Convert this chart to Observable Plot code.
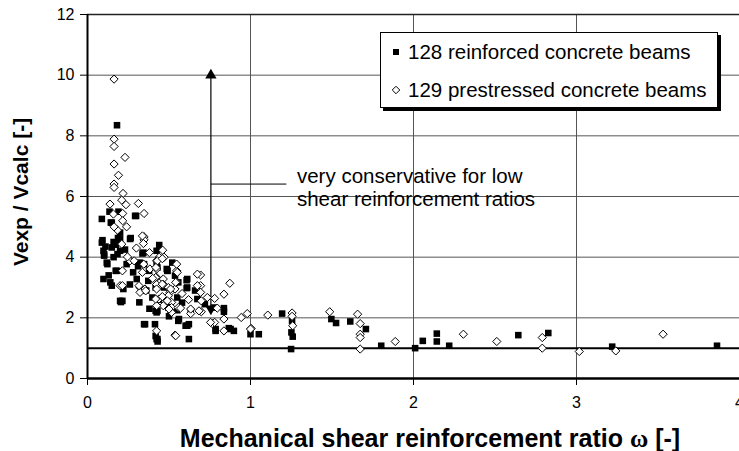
<!DOCTYPE html>
<html><head><meta charset="utf-8">
<script src="https://cdn.jsdelivr.net/npm/d3@7"></script>
<script src="https://cdn.jsdelivr.net/npm/@observablehq/plot@0.6"></script>
<style>body{margin:0;background:#fff;}svg{display:block;}</style>
</head><body><div id="chart"></div>
<script>
// Series: [omega, Vexp/Vcalc]
const reinforced = [
[0.181,8.35],[0.19,5.5],[0.298,5.36],[0.088,5.26],[0.149,5.14],[0.2,4.81],[0.261,4.6],[0.088,4.48],[0.2,4.6],
[0.149,4.32],[0.098,4.21],[0.343,4.15],[0.424,4.21],[0.16,4.0],[0.2,4.21],[0.118,3.82],[0.179,3.55],[0.24,3.77],
[0.322,3.82],[0.098,3.28],[0.149,3.06],[0.22,2.95],[0.2,2.56],[0.205,2.52],[0.318,2.51],[0.302,3.28],[0.373,3.22],
[0.353,1.79],[0.414,1.79],[0.424,1.3],[0.43,1.22],[0.418,1.4],[0.537,3.39],[0.557,3.17],[0.486,3.61],[0.424,2.18],
[0.496,2.34],[0.557,1.9],[0.424,3.82],[0.418,3.0],[0.608,3.24],[0.608,2.98],[0.674,2.62],[0.633,2.23],[0.602,1.74],
[0.622,1.79],[0.622,1.3],[0.837,2.32],[0.837,2.2],[0.786,1.57],[0.867,1.66],[0.898,1.57],[1.0,1.46],[1.051,1.46],
[1.194,2.14],[1.255,1.9],[1.251,1.52],[1.259,1.38],[1.249,0.97],[1.496,1.96],[1.525,1.83],[1.612,1.88],[1.708,1.63],
[1.802,1.08],[2.01,1.0],[2.057,1.24],[2.143,1.48],[2.143,1.22],[2.219,1.08],[2.643,1.43],[2.827,1.5],[3.219,1.05],
[3.862,1.08],[0.102,4.05],[0.418,2.23],[0.776,2.34],[0.786,1.63],[0.878,1.63],[0.52,3.82],[0.49,3.55],[0.551,2.67],
[0.135,5.5],[0.173,4.41],[0.265,4.63],[0.102,4.1],[0.184,4.1],[0.122,3.77],[0.173,3.55],[0.337,4.12],[0.347,3.77],
[0.378,3.55],[0.429,3.66],[0.49,3.55],[0.398,2.67],[0.429,2.23],[0.214,2.56],[0.14,3.17],[0.612,3.28],[0.612,3.0],
[0.469,3.0],[0.49,2.4],[0.561,1.96],[0.347,1.79],[0.429,1.3],[0.612,1.74],[0.092,4.56],[0.187,4.63],[0.292,5.36],
[0.143,5.14],[0.11,4.35],[0.16,4.5],[0.13,3.4],[0.23,4.25],[0.28,3.5],[0.36,2.9],[0.45,2.6],[0.5,2.05],[0.55,2.25],
[0.38,2.3],[0.31,3.7],[0.26,3.1],[0.44,4.4],[0.58,2.5],[0.66,2.9],[0.72,2.45]
];
const prestressed = [
[0.163,9.87],[0.163,7.89],[0.163,7.65],[0.23,7.29],[0.163,7.07],[0.163,6.41],[0.163,6.3],[0.218,6.1],[0.312,5.77],
[0.21,5.88],[0.236,5.73],[0.138,5.75],[0.347,5.44],[0.159,5.42],[0.216,5.44],[0.216,5.2],[0.184,4.89],[0.347,4.67],
[0.347,4.57],[0.343,4.45],[0.21,4.43],[0.38,4.15],[0.461,4.23],[0.44,4.0],[0.2,3.06],[0.261,3.88],[0.345,3.77],
[0.383,3.61],[0.424,3.88],[0.47,4.0],[0.424,3.61],[0.424,3.33],[0.424,3.1],[0.424,2.95],[0.465,3.28],[0.465,3.1],
[0.322,3.0],[0.322,2.84],[0.353,2.95],[0.496,3.0],[0.506,2.84],[0.547,3.17],[0.537,2.95],[0.547,3.55],[0.547,3.77],
[0.496,2.73],[0.475,2.56],[0.465,2.4],[0.516,2.51],[0.438,2.62],[0.424,2.4],[0.516,2.34],[0.557,2.34],[0.516,2.18],
[0.424,1.57],[0.537,1.43],[0.694,3.41],[0.694,3.06],[0.694,2.84],[0.873,3.14],[0.837,2.78],[0.698,2.56],[0.735,2.67],
[0.78,2.64],[0.698,2.2],[0.633,2.14],[0.796,2.32],[0.837,1.96],[0.765,1.81],[0.78,1.85],[0.837,1.57],[0.943,2.01],
[0.98,2.14],[1.004,1.65],[1.106,2.09],[0.571,2.32],[1.255,2.16],[1.255,2.05],[1.259,1.74],[1.486,2.2],[1.657,2.12],
[1.673,1.81],[1.673,1.46],[1.673,1.35],[1.673,0.97],[1.888,1.22],[2.306,1.46],[2.511,1.22],[1.0,1.63],[2.79,1.35],
[2.79,1.0],[3.017,0.89],[3.241,0.91],[3.531,1.46],[0.357,2.89],[0.541,3.17],[0.755,1.85],[0.163,5.0],[0.337,4.7],
[0.286,3.88],[0.245,4.01],[0.429,3.88],[0.459,3.95],[0.551,3.5],[0.42,3.66],[0.337,3.5],[0.214,3.55],[0.316,3.06],
[0.418,3.33],[0.459,3.11],[0.51,2.95],[0.418,2.62],[0.459,2.7],[0.49,2.56],[0.214,3.06],[0.541,1.41],[0.633,2.29],
[0.674,3.44],[0.674,3.06],[0.684,2.23],[0.5,2.29],[0.24,5.0],[0.19,6.7],[0.3,4.3],[0.4,3.3],[0.58,2.8],[0.62,2.6]
];
const legendLabels = ["128 reinforced concrete beams", "129 prestressed concrete beams"];
const annotationLines = ["very conservative for low", "shear reinforcement ratios"];
const arrowX = 0.757, arrowFrom = 2.3, arrowTo = 10;
const xTicks = [0, 1, 2, 3, 4];
const yTicks = [0, 2, 4, 6, 8, 10, 12];
const xTitle = "Mechanical shear reinforcement ratio ";
const yTitle = "Vexp / Vcalc [-]";

const font = "'Liberation Sans', Arial, sans-serif";
const W = 739, H = 451;
const plot = Plot.plot({
  width: W, height: H,
  marginLeft: 87, marginRight: 0, marginTop: 14, marginBottom: 73,
  style: {fontFamily: font, background: "white", overflow: "visible"},
  x: {domain: [0, 4]},
  y: {domain: [0, 12]},
  marks: [
    Plot.gridY(yTicks.filter(d => d > 0), {stroke: "#555", strokeOpacity: 1, strokeWidth: 1}),
    Plot.gridX(xTicks.filter(d => d > 0), {stroke: "#555", strokeOpacity: 1, strokeWidth: 1}),
    Plot.ruleY([12], {stroke: "#222", strokeWidth: 1.5}),
    Plot.ruleY([1], {stroke: "#000", strokeWidth: 2}),
    Plot.ruleY([0], {stroke: "#000", strokeWidth: 2.5}),
    Plot.ruleX([0], {stroke: "#000", strokeWidth: 2}),
    Plot.axisY(yTicks, {tickSize: 7, tickPadding: 6, fontSize: 16, label: null, stroke: "#000", fill: "#000", tickFormat: d => String(d)}),
    Plot.axisX(xTicks, {tickSize: 7, tickPadding: 11, fontSize: 16, label: null, stroke: "#000", fill: "#000", tickFormat: d => String(d)}),
    Plot.link([arrowX], {x1: d => d, x2: d => d, y1: arrowFrom, y2: arrowTo, stroke: "#000", strokeWidth: 1.2}),
    Plot.dot([arrowX], {x: d => d, y: arrowTo, symbol: "triangle", r: 4.2, fill: "#000"}),
    Plot.dot([arrowX], {x: d => d, y: arrowFrom, symbol: "triangle", r: 4.2, fill: "#000", rotate: 180}),
    Plot.link([arrowX], {x1: d => d, x2: 1.22, y1: 6.41, y2: 6.41, stroke: "#000", strokeWidth: 1}),
    Plot.text(annotationLines, {x: 1.285, y: (d, i) => 6.66 - i * 0.76, text: d => d, textAnchor: "start", fontSize: 20.5, fill: "#000"}),
    Plot.dot(reinforced, {x: d => d[0], y: d => d[1], symbol: "square", r: 3.7, fill: "#000"}),
    Plot.dot(prestressed, {x: d => d[0], y: d => d[1], symbol: "diamond2", r: 3.7, fill: "#fff", stroke: "#000", strokeWidth: 1})
  ]
});
document.getElementById("chart").appendChild(plot);
const svg = d3.select(plot);
// Legend
const lg = svg.append("g").attr("font-family", font).attr("text-anchor", "start");
lg.append("rect").attr("x", 383).attr("y", 35).attr("width", 338).attr("height", 76).attr("fill", "#000");
lg.append("rect").attr("x", 380.5).attr("y", 32.5).attr("width", 337).attr("height", 75).attr("fill", "#fff").attr("stroke", "#000").attr("stroke-width", 1);
lg.append("path").attr("d", d3.symbol(d3.symbolSquare, 36)()).attr("transform", "translate(396,52)").attr("fill", "#000");
lg.append("path").attr("d", d3.symbol(d3.symbolDiamond2, 36)()).attr("transform", "translate(396,90)").attr("fill", "#fff").attr("stroke", "#000");
legendLabels.forEach((t, i) => lg.append("text").attr("x", 408).attr("y", 52 + i * 38).attr("dy", "0.36em").attr("font-size", 20.5).attr("fill", "#000").text(t));
// Axis titles
svg.append("text").attr("font-family", font).attr("font-weight", "bold").attr("font-size", 21)
  .attr("text-anchor", "middle").attr("transform", "translate(28,192) rotate(-90)").text(yTitle);
const xt = svg.append("text").attr("font-family", font).attr("font-weight", "bold").attr("font-size", 25)
  .attr("text-anchor", "middle").attr("x", 430).attr("y", 447).text(xTitle);
xt.append("tspan").attr("font-family", "'Liberation Serif', 'DejaVu Serif', serif").text("ω");
xt.append("tspan").text(" [-]");
</script></body></html>
